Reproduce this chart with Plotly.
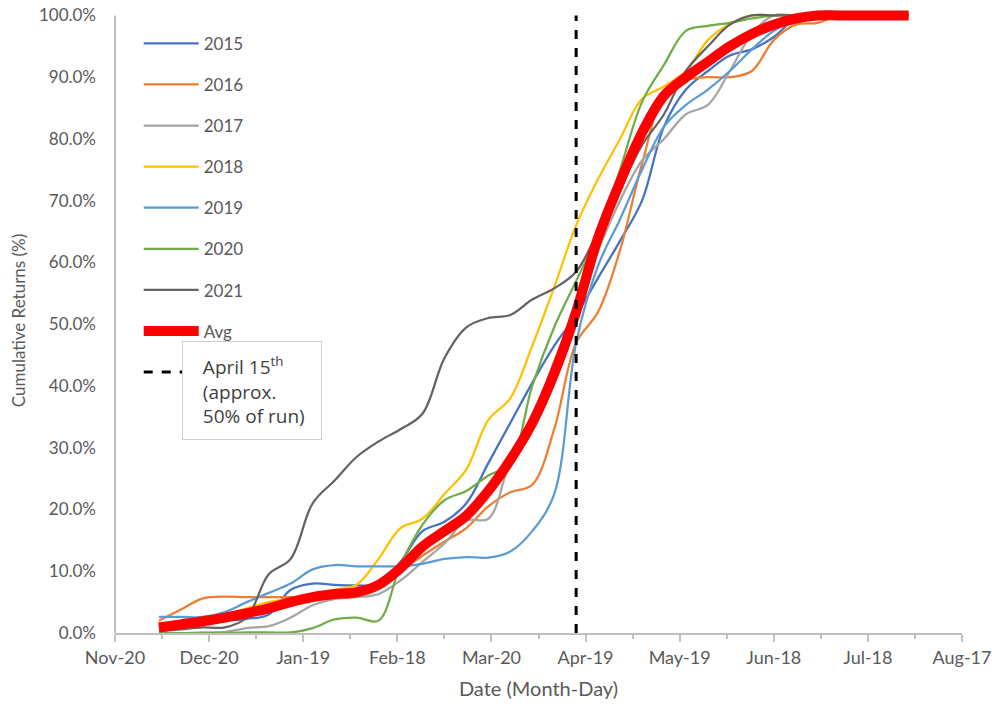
import plotly.graph_objects as go

# ---------------- data ----------------
dates = ["2020-12-04", "2020-12-11", "2020-12-18", "2020-12-25", "2021-01-01", "2021-01-08",
         "2021-01-15", "2021-01-22", "2021-01-29", "2021-02-05", "2021-02-12", "2021-02-19",
         "2021-02-26", "2021-03-05", "2021-03-12", "2021-03-19", "2021-03-26", "2021-04-02",
         "2021-04-09", "2021-04-16", "2021-04-23", "2021-04-30", "2021-05-07", "2021-05-14",
         "2021-05-21", "2021-05-28", "2021-06-04", "2021-06-11", "2021-06-18", "2021-06-25",
         "2021-07-02", "2021-07-09", "2021-07-16", "2021-07-23", "2021-07-31"]

y2015 = [0.8, 1.2, 1.6, 2.0, 2.3, 3.0, 7.0, 8.0, 7.8, 7.7, 8.0, 11.5, 16.5, 18.0, 21.0, 27.5, 34.0,
         40.5, 46.5, 51.5, 57.5, 63.5, 70.0, 82.0, 88.0, 91.0, 93.5, 94.5, 96.5, 99.5, 100, 100, 100, 100, 100]
y2016 = [2.0, 3.8, 5.6, 5.9, 5.8, 5.8, 5.8, 5.8, 6.0, 6.2, 7.5, 10.0, 12.5, 14.8, 17.0, 20.5, 22.8,
         24.0, 33.0, 47.0, 52.0, 62.0, 76.0, 87.0, 89.5, 90.0, 90.0, 91.0, 96.0, 98.5, 98.8, 100, 100, 100, 100]
y2017 = [0.0, 0.0, 0.1, 0.2, 0.8, 1.1, 2.5, 4.5, 5.5, 5.8, 6.3, 8.5, 11.5, 14.5, 18.2, 18.5, 28.0,
         35.0, 44.0, 53.0, 62.0, 70.0, 76.5, 80.0, 84.0, 85.5, 91.0, 97.0, 100, 100, 100, 100, 100, 100, 100]
y2018 = [0.8, 1.2, 1.8, 2.8, 4.0, 5.0, 5.6, 6.2, 7.0, 7.8, 12.0, 17.0, 18.5, 22.5, 26.5, 34.5, 38.0,
         46.5, 56.0, 66.0, 73.5, 80.0, 86.5, 88.5, 91.0, 96.0, 98.6, 100, 100, 100, 100, 100, 100, 100, 100]
y2019 = [2.6, 2.6, 2.6, 3.4, 5.0, 6.5, 8.0, 10.3, 11.0, 10.8, 10.8, 10.8, 11.2, 12.0, 12.3, 12.2, 13.2,
         16.5, 22.5, 47.0, 59.5, 67.0, 75.0, 82.0, 85.5, 88.0, 91.0, 94.5, 97.5, 99.3, 100, 100, 100, 100, 100]
y2020 = [0.0, 0.0, 0.0, 0.0, 0.1, 0.1, 0.1, 0.8, 2.2, 2.5, 2.0, 11.0, 17.5, 21.5, 23.0, 25.5, 27.5,
         40.0, 49.5, 57.0, 64.5, 75.0, 86.0, 92.0, 97.5, 98.3, 98.8, 99.5, 100, 100, 100, 100, 100, 100, 100]
y2021 = [0.3, 0.6, 0.9, 0.9, 2.5, 9.5, 12.0, 21.0, 24.7, 28.5, 31.0, 33.0, 35.5, 44.5, 49.5, 51.0, 51.5,
         54.0, 55.8, 58.5, 65.0, 72.0, 79.0, 84.0, 91.0, 95.0, 98.5, 100, 100, 100, 100, 100, 100, 100, 100]
yavg = [0.9, 1.4, 1.9, 2.5, 3.2, 4.0, 5.0, 5.8, 6.3, 6.6, 7.8, 10.5, 14.0, 16.5, 19.0, 23.0, 28.0,
        34.0, 42.0, 52.0, 64.0, 73.0, 81.0, 87.0, 90.0, 92.5, 95.0, 97.0, 98.5, 99.5, 100, 100, 100, 100, 100]

series_names = ["2015", "2016", "2017", "2018", "2019", "2020", "2021"]
series_values = [y2015, y2016, y2017, y2018, y2019, y2020, y2021]
series_colors = ["#4472C4", "#ED7D31", "#A5A5A5", "#FFC000", "#5B9BD5", "#70AD47", "#636363"]

marker_date = "2021-04-16"
marker_y = [0, 1]

tick_dates = ["2020-11-20", "2020-12-20", "2021-01-19", "2021-02-18", "2021-03-20",
              "2021-04-19", "2021-05-19", "2021-06-18", "2021-07-18", "2021-08-17"]
tick_labels = ["Nov-20", "Dec-20", "Jan-19", "Feb-18", "Mar-20",
               "Apr-19", "May-19", "Jun-18", "Jul-18", "Aug-17"]

FONT = "Lato"
TXT = "#595959"
AX = "#BFBFBF"

fig = go.Figure()
for i, (nm, vals, col) in enumerate(zip(series_names, series_values, series_colors)):
    fig.add_trace(go.Scatter(
        x=dates, y=[v / 100 for v in vals], mode="lines", name=nm,
        line=dict(color=col, width=2.25, shape="spline", smoothing=1.0),
        legendgroup=f"g{i}", hoverinfo="skip"))

fig.add_trace(go.Scatter(
    x=dates, y=[v / 100 for v in yavg], mode="lines", name="Avg",
    line=dict(color="#FF0000", width=10, shape="spline", smoothing=1.0),
    legendgroup="gavg", hoverinfo="skip"))

fig.add_trace(go.Scatter(
    x=[marker_date, marker_date], y=marker_y, mode="lines", name=" ",
    line=dict(color="black", width=3, dash="dash"),
    legendgroup="gline", hoverinfo="skip"))

fig.update_layout(
    width=992, height=704,
    margin=dict(l=115, r=30, t=8, b=71),
    paper_bgcolor="white", plot_bgcolor="white",
    font=dict(family=FONT, color=TXT, size=17),
    showlegend=True,
    legend=dict(x=0.028, y=0.9716, xanchor="left", yanchor="top",
                bgcolor="rgba(0,0,0,0)", font=dict(size=17, color=TXT),
                tracegroupgap=16, itemwidth=55),
    xaxis=dict(
        type="date", range=["2020-11-20", "2021-08-17"], automargin=False,
        tickvals=tick_dates, ticktext=tick_labels,
        ticks="outside", ticklen=7, tickwidth=1.5, tickcolor=AX,
        minor=dict(ticks="outside", ticklen=4, tickwidth=1.5, tickcolor=AX,
                   tick0="2020-12-05", dtick=30 * 86400000),
        showline=True, linecolor=AX, linewidth=2,
        showgrid=False, zeroline=False,
        tickfont=dict(size=18, color=TXT),
        title=dict(text="Date (Month-Day)", font=dict(size=20, color=TXT), standoff=15)),
    yaxis=dict(
        range=[0, 1.012], tickvals=[i / 10 for i in range(11)], tickformat=".1%",
        automargin=False,
        showline=False, showgrid=False, zeroline=False, ticks="",
        ticklabelstandoff=18,
        tickfont=dict(size=17, color=TXT),
        title=dict(text="Cumulative Returns (%)", font=dict(size=17, color=TXT), standoff=8)),
)

fig.add_shape(type="line", xref="paper", yref="y", x0=0, x1=0, y0=0, y1=1,
              line=dict(color=AX, width=2), layer="above")

fig.add_annotation(
    xref="paper", yref="paper", x=0.079, y=0.4675, xanchor="left", yanchor="top",
    text="&nbsp;&nbsp;April 15<sup>th</sup><br>&nbsp;&nbsp;(approx.<br>&nbsp;&nbsp;50% of run)",
    showarrow=False, align="left", width=118,
    font=dict(size=19, color="#404040", family="Open Sans"),
    bgcolor="white", bordercolor="#D0D0D0", borderwidth=1, borderpad=10)

fig.write_html("out.html")
